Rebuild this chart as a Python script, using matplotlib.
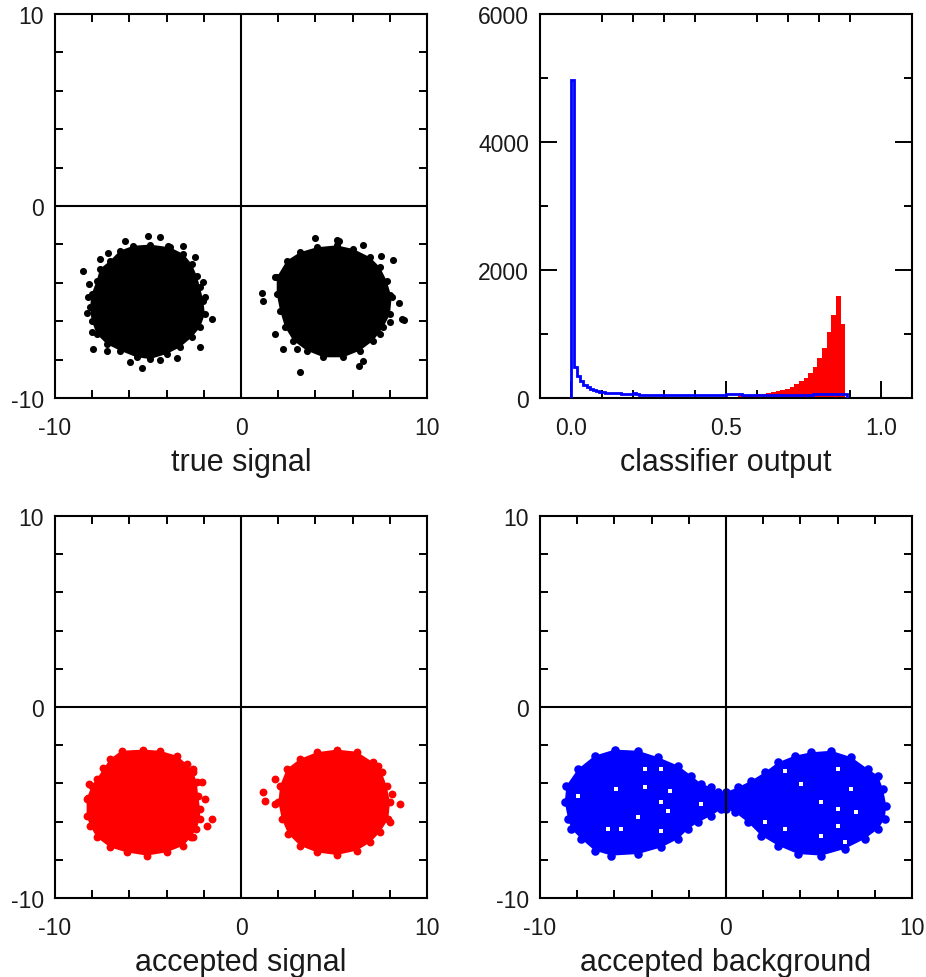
#!/usr/bin/env python3
#
# Four panel view of a toy classifier: the true signal, the classifier output
# histogram and what ends up accepted as signal and as background.
# The dense middle of every cloud is drawn as a filled outline, the loose
# points around it as single dots.

import matplotlib
matplotlib.use('Agg')
import matplotlib.pyplot as plt
from matplotlib.ticker import MultipleLocator

plt.rcParams['font.family'] = ['Liberation Sans', 'DejaVu Sans']

# --- true signal, outlines of the two clouds
TRUE_L_X = [-7.76, -7.58, -7.04, -6.51, -5.79, -4.89, -3.82, -3.10, -2.65, -2.38, -2.20, -2.03, -1.94,
            -2.20, -2.65, -3.28, -4.00, -4.89, -5.61, -6.51, -7.22, -7.76, -8.03, -8.12, -8.03]
TRUE_L_Y = [-3.89, -3.28, -2.85, -2.33, -2.07, -2.01, -2.15, -2.50, -3.02, -3.63, -4.24, -4.93, -5.63,
            -6.32, -6.84, -7.36, -7.71, -7.97, -7.88, -7.53, -7.19, -6.67, -5.97, -5.28, -4.58]
TRUE_R_X = [1.92, 2.46, 3.17, 4.07, 5.14, 6.04, 6.94, 7.47, 7.83, 8.10, 8.01, 7.65, 7.11, 6.40, 5.50,
            4.43, 3.53, 2.81, 2.37, 2.10, 1.92]
TRUE_R_Y = [-3.72, -2.85, -2.41, -2.15, -2.05, -2.24, -2.67, -3.19, -3.89, -4.76, -5.63, -6.32, -7.01,
            -7.53, -7.88, -7.88, -7.53, -7.01, -6.32, -5.45, -4.58]
# loose points around them
TRUE_DOT_X = [-8.51, -8.15, -8.30, -7.94, -7.22, -6.24, -4.98, -4.35, -3.10, -2.47, -7.58, -7.13, -1.94,
              -1.58, -2.20, -3.46, -4.35, -5.34, -5.97, -8.21, -8.03, -2.03, -3.91,
              1.11, 1.20, 1.83, 1.83, 2.24, 2.99, 3.19, 3.98, 5.14, 6.54, 7.51, 8.15, 8.01, 8.51, 8.64,
              8.01, 7.47, 6.58, 2.72, 8.75, 6.33, 5.26]
TRUE_DOT_Y = [-3.40, -4.06, -5.59, -7.45, -7.53, -1.81, -1.55, -1.63, -2.07, -2.64, -2.76, -2.47, -4.72,
              -5.89, -7.36, -7.92, -8.02, -8.44, -8.11, -4.76, -6.58, -3.98, -2.07,
              -4.55, -4.97, -3.72, -6.67, -7.45, -7.45, -8.66, -1.67, -1.77, -2.01, -2.59, -2.81, -4.62,
              -5.07, -5.89, -6.06, -6.67, -8.06, -2.93, -5.92, -8.32, -1.81]

# --- accepted signal
ACC_L_X = [-7.76, -7.04, -6.42, -5.25, -4.35, -3.46, -2.92, -2.56, -2.38, -2.30, -2.20, -2.20, -2.40,
           -2.70, -3.10, -4.00, -5.07, -6.15, -7.04, -7.76, -8.12, -8.30, -8.30, -8.03]
ACC_L_Y = [-3.77, -2.72, -2.29, -2.23, -2.29, -2.55, -2.98, -3.42, -3.94, -4.64, -5.34, -5.86, -6.39,
           -6.82, -7.26, -7.61, -7.78, -7.61, -7.35, -6.82, -6.21, -5.69, -4.82, -4.12]
ACC_R_X = [2.10, 2.46, 3.17, 4.07, 5.14, 6.22, 7.11, 7.56, 7.83, 8.01, 7.92, 7.47, 6.94, 6.22, 5.14,
           4.07, 3.17, 2.54, 2.19, 2.01]
ACC_R_Y = [-4.12, -3.25, -2.72, -2.37, -2.23, -2.34, -2.90, -3.42, -4.12, -4.99, -5.86, -6.56, -7.09,
           -7.52, -7.75, -7.61, -7.26, -6.65, -5.86, -4.99]
ACC_DOT_X = [-8.15, -7.40, -1.94, -1.58, -2.56, -2.11, -1.85, -2.56, -8.21,
             1.20, 1.29, 1.83, 1.83, 8.55, 8.10, 8.01, 7.38]
ACC_DOT_Y = [-4.03, -3.21, -4.82, -5.86, -3.24, -3.94, -6.21, -6.82, -4.78,
             -4.47, -4.90, -3.77, -5.08, -5.08, -4.55, -6.04, -3.07]

# --- accepted background (one bow-tie outline) and the small gaps inside it
BKG_X = [-8.67, -8.58, -7.96, -7.06, -5.99, -4.73, -3.65, -2.58, -1.86, -1.32, -0.79, -0.43, 0.02, 0.65,
         1.36, 2.08, 2.80, 3.69, 4.59, 5.66, 6.74, 7.63, 8.17, 8.44, 8.62, 8.53, 8.17, 7.45, 6.38, 5.13,
         3.87, 2.80, 1.90, 1.18, 0.47, 0.02, -0.25, -0.79, -1.50, -2.04, -2.58, -3.48, -4.73, -6.16,
         -7.06, -7.78, -8.31, -8.49]
BKG_Y = [-4.99, -4.12, -3.25, -2.55, -2.23, -2.29, -2.63, -3.07, -3.60, -4.03, -4.20, -4.45, -4.45, -4.20,
         -3.86, -3.42, -2.90, -2.55, -2.37, -2.29, -2.63, -3.25, -3.60, -4.29, -5.17, -5.86, -6.39, -6.91,
         -7.43, -7.78, -7.70, -7.26, -6.74, -6.04, -5.51, -5.35, -5.34, -5.69, -6.04, -6.39, -6.91, -7.35,
         -7.70, -7.78, -7.52, -6.91, -6.39, -5.86]
HOLE_X = [-4.37, -3.47, -5.89, -4.37, -3.03, -7.96, -3.47, -4.73, -5.63, -6.34, -3.47, -3.12, -1.32,
          3.16, 6.02, 4.05, 6.74, 5.13, 6.02, 7.01, 5.13, 6.02, 3.16, 6.38, 2.08]
HOLE_Y = [-3.25, -3.25, -4.29, -4.20, -4.38, -4.64, -4.99, -5.78, -6.39, -6.39, -6.47, -5.43, -5.08,
          -3.33, -3.25, -4.03, -4.29, -4.99, -5.34, -5.51, -6.74, -6.21, -6.39, -7.09, -6.04]

# --- classifier output histograms
SIG_BIN = 0.015
SIG_COUNTS = [0, 0, 0, 0, 0, 0, 0, 0, 0, 0, 0, 0, 0, 0, 0, 0, 0, 0, 0, 0, 0, 0, 0, 0, 0, 2, 3, 3, 4, 5,
              6, 8, 10, 13, 17, 22, 27, 33, 40, 47, 55, 64, 75, 88, 104, 118, 140, 172, 211, 258, 320,
              390, 479, 620, 780, 1026, 1297, 1599, 1156]
BKG_BIN = 0.01
BKG_COUNTS = [4970, 479, 349, 271, 208, 167, 140, 130, 115, 99, 92, 85, 78, 78, 75, 72, 68, 65, 62, 70,
              72, 58, 54, 52, 52, 53, 51, 52, 50, 52, 53, 50, 47, 48, 46, 47, 48, 47, 46, 47, 48, 47,
              46, 47, 48, 47, 46, 48, 47, 50, 62, 64, 62, 60, 58, 47, 48, 47, 50, 51, 49, 50, 52, 50,
              49, 51, 50, 52, 50, 49, 51, 50, 52, 51, 50, 52, 51, 50, 62, 64, 66, 65, 68, 66, 65, 67,
              70, 68, 60]

XY_TICKS = [-10, -8, -6, -4, -2, 0, 2, 4, 6, 8, 10]
XY_LABELS = ['-10', '', '', '', '', '0', '', '', '', '', '10']
HIST_X_TICKS = [0.0, 0.5, 1.0]
HIST_X_LABELS = ['0.0', '0.5', '1.0']
HIST_Y_TICKS = [0, 2000, 4000, 6000]

TXT = '#1a1a1a'
W, H = 926, 978


def frame(ax):
  for s in ax.spines.values():
    s.set_linewidth(1.5)
  ax.tick_params(which='both', direction='in', top=True, right=True, width=1.4,
                 labelsize=16.5, labelcolor=TXT)
  ax.tick_params(axis='x', which='both', pad=13)
  ax.tick_params(axis='y', which='both', pad=8)


def cloud_panel(ax, outlines, dot_x, dot_y, color, size, label):
  for ox, oy in outlines:
    ax.fill(ox, oy, color=color, lw=0, zorder=2)
    ax.scatter(ox, oy, s=size, color=color, lw=0, zorder=2)
  ax.scatter(dot_x, dot_y, s=size, color=color, lw=0, zorder=2)
  ax.axhline(0, color='black', lw=1.5, zorder=4)
  ax.axvline(0, color='black', lw=1.5, zorder=4)
  ax.set_xlim(-10, 10)
  ax.set_ylim(-10, 10)
  ax.set_xticks(XY_TICKS)
  ax.set_xticklabels(XY_LABELS)
  ax.set_yticks(XY_TICKS)
  ax.set_yticklabels(XY_LABELS)
  frame(ax)
  ax.tick_params(which='both', length=6)
  ax.set_xlabel(label, fontsize=22, color=TXT, labelpad=6)


fig = plt.figure(figsize=(W / 100, H / 100), dpi=100)
left = [55 / W, 540 / W]
width = 372 / W
ax_true = fig.add_axes([left[0], 1 - 399 / H, width, 384 / H])
ax_hist = fig.add_axes([left[1], 1 - 399 / H, width, 384 / H])
ax_acc = fig.add_axes([left[0], 1 - 899 / H, width, 382 / H])
ax_bkg = fig.add_axes([left[1], 1 - 899 / H, width, 382 / H])

cloud_panel(ax_true, [(TRUE_L_X, TRUE_L_Y), (TRUE_R_X, TRUE_R_Y)], TRUE_DOT_X, TRUE_DOT_Y,
            'black', 26, 'true signal')
cloud_panel(ax_acc, [(ACC_L_X, ACC_L_Y), (ACC_R_X, ACC_R_Y)], ACC_DOT_X, ACC_DOT_Y,
            '#ff0000', 32, 'accepted signal')
cloud_panel(ax_bkg, [(BKG_X, BKG_Y)], [], [], '#0000ff', 38, 'accepted background')
ax_bkg.scatter(HOLE_X, HOLE_Y, s=12, marker='s', color='white', lw=0, zorder=3)

# histogram panel
sig_edges = [i * SIG_BIN for i in range(len(SIG_COUNTS) + 1)]
bkg_edges = [i * BKG_BIN for i in range(len(BKG_COUNTS) + 1)]
ax_hist.stairs(SIG_COUNTS, sig_edges, fill=True, color='#ff0000', lw=0, zorder=2)
ax_hist.stairs(BKG_COUNTS, bkg_edges, color='#0000ff', lw=2.0, zorder=3)
ax_hist.set_xlim(-0.1, 1.1)
ax_hist.set_ylim(0, 6000)
ax_hist.set_xticks(HIST_X_TICKS)
ax_hist.set_xticklabels(HIST_X_LABELS)
ax_hist.xaxis.set_minor_locator(MultipleLocator(0.1))
ax_hist.set_yticks(HIST_Y_TICKS)
ax_hist.yaxis.set_minor_locator(MultipleLocator(1000))
frame(ax_hist)
ax_hist.tick_params(axis='x', which='major', top=False)
ax_hist.tick_params(which='major', length=12)
ax_hist.tick_params(which='minor', length=6)
ax_hist.set_xlabel('classifier output', fontsize=22, color=TXT, labelpad=6)

fig.savefig('out.png', dpi=100)
